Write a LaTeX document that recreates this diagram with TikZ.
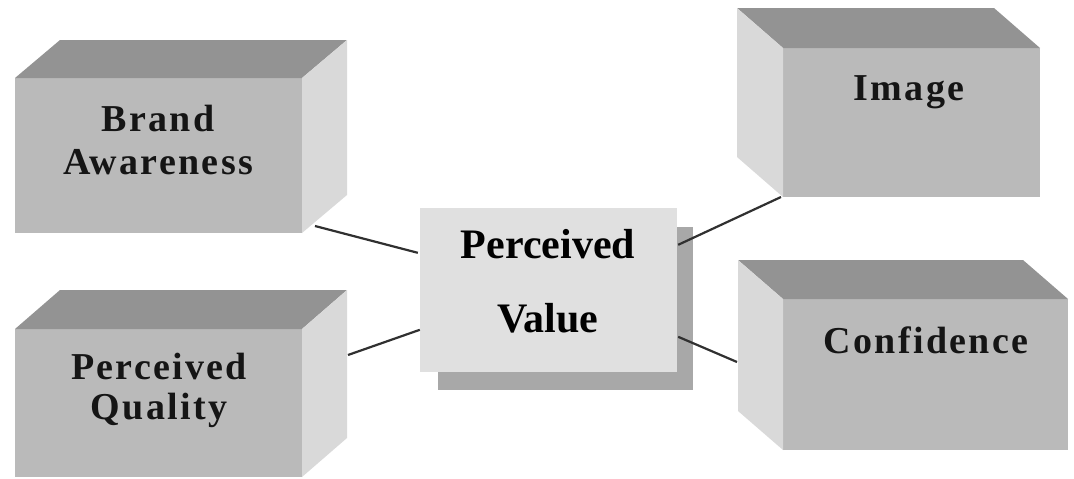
\documentclass[tikz,border=0pt]{standalone}
\usepackage{fontspec}
\setmainfont{Liberation Serif}
\newfontfamily\boxfont[LetterSpace=6]{Liberation Serif}
\usetikzlibrary{calc}
\definecolor{frontgray}{HTML}{BABABA}
\definecolor{topgray}{HTML}{939393}
\definecolor{sidegray}{HTML}{D9D9D9}
\definecolor{pvgray}{HTML}{E0E0E0}
\definecolor{shadowgray}{HTML}{A8A8A8}
\definecolor{linegray}{HTML}{303030}
\definecolor{textgray}{HTML}{151515}
\begin{document}
\begin{tikzpicture}[x=1pt,y=-1pt,
  front/.style={fill=frontgray, draw=none, inner sep=0pt, outer sep=0pt},
  topface/.style={fill=topgray},
  sideface/.style={fill=sidegray},
  boxlabel/.style={font=\boxfont\bfseries\fontsize{38}{43}\selectfont, text=textgray, align=center, inner sep=0pt},
  pvlabel/.style={font=\bfseries\fontsize{42}{74}\selectfont, text=black, align=center, inner sep=0pt},
  link/.style={draw=linegray, line width=2.2pt}]
\useasboundingbox (0,0) rectangle (1074,479);

% Brand Awareness
\node[front, minimum width=287pt, minimum height=155pt] (ba) at (158.5,155.5) {};
\fill[topface] (ba.north west) -- ++(45,-38) -- ++(287,0) -- (ba.north east) -- cycle;
\fill[sideface] (ba.north east) -- ++(45,-38) -- ++(0,155) -- (ba.south east) -- cycle;
\node[boxlabel] (ba-text) at (158,140) {Brand\\Awareness};

% Perceived Quality
\node[front, minimum width=287pt, minimum height=148pt] (pq) at (158.5,403) {};
\fill[topface] (pq.north west) -- ++(45,-39) -- ++(287,0) -- (pq.north east) -- cycle;
\fill[sideface] (pq.north east) -- ++(45,-39) -- ++(0,148) -- (pq.south east) -- cycle;
\node[boxlabel, font=\boxfont\bfseries\fontsize{38}{40}\selectfont] (pq-text) at (159,390) {Perceived\\Quality};

% Image
\node[front, minimum width=257pt, minimum height=149pt] (img) at (911.5,122.5) {};
\fill[topface] (img.north west) -- ++(-46,-40) -- ++(257,0) -- (img.north east) -- cycle;
\fill[sideface] (img.north west) -- ++(-46,-40) -- ++(0,149) -- (img.south west) -- cycle;
\node[boxlabel] (img-text) at (909,92) {Image};

% Confidence
\node[front, minimum width=285pt, minimum height=151pt] (conf) at (925.5,374.5) {};
\fill[topface] (conf.north west) -- ++(-45,-39) -- ++(285,0) -- (conf.north east) -- cycle;
\fill[sideface] (conf.north west) -- ++(-45,-39) -- ++(0,151) -- (conf.south west) -- cycle;
\node[boxlabel] (conf-text) at (926,340) {Confidence};

% Perceived Value
\node[fill=shadowgray, inner sep=0pt, minimum width=255pt, minimum height=163pt] (pv-shadow) at (565.5,308.5) {};
\node[fill=pvgray, inner sep=0pt, minimum width=257pt, minimum height=164pt] (pv) at (548.5,290) {};
\node[pvlabel] (pv-text) at (548,281) {Perceived\\Value};

% connectors
\coordinate (ba-out) at ($(ba.south east)+(13,-7)$);
\coordinate (pv-in1) at ($(pv.north west)+(-2,45)$);
\coordinate (pq-out) at ($(pq.north east)+(46,26)$);
\coordinate (pv-in2) at ($(pv.north west)+(0,122)$);
\coordinate (pv-out1) at ($(pv.north east)+(1,37)$);
\coordinate (img-in) at ($(img.south west)+(-2,0)$);
\coordinate (pv-out2) at ($(pv.north east)+(1,129)$);
\coordinate (conf-in) at ($(conf.north west)+(-46,63)$);
\draw[link] (ba-out) -- (pv-in1);
\draw[link] (pq-out) -- (pv-in2);
\draw[link] (pv-out1) -- (img-in);
\draw[link] (pv-out2) -- (conf-in);
\end{tikzpicture}
\end{document}
